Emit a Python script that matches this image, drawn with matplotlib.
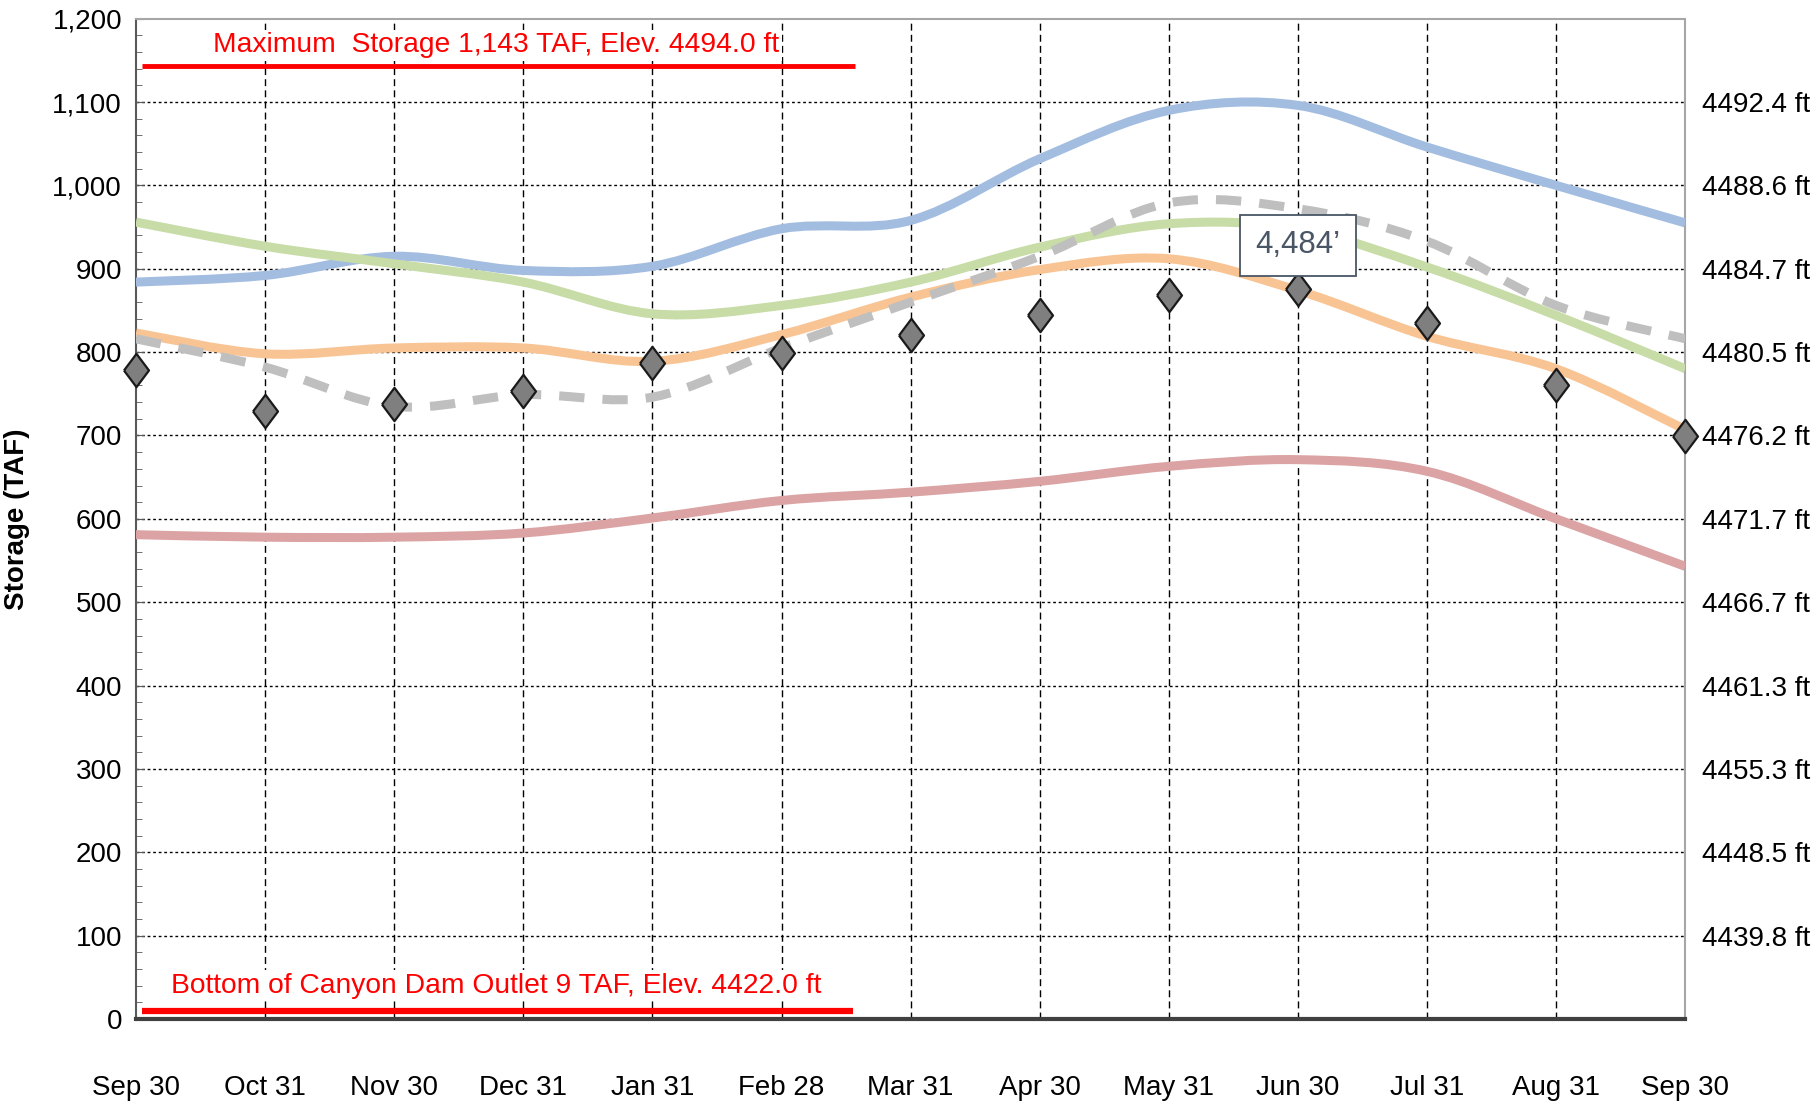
import numpy as np
import matplotlib
matplotlib.use("Agg")
import matplotlib.pyplot as plt
from matplotlib.path import Path
from matplotlib.patches import PathPatch
from matplotlib.ticker import FixedLocator, MultipleLocator, FuncFormatter

plt.rcParams['font.family'] = ['Liberation Sans', 'DejaVu Sans']

months = ["Sep 30", "Oct 31", "Nov 30", "Dec 31", "Jan 31", "Feb 28", "Mar 31",
          "Apr 30", "May 31", "Jun 30", "Jul 31", "Aug 31", "Sep 30"]

blue = [884, 892, 915, 898, 903, 948, 958, 1032, 1090, 1096, 1046, 1000, 955]
green = [956, 927, 906, 884, 846, 856, 884, 926, 954, 948, 902, 844, 780]
orange = [823, 798, 805, 805, 789, 821, 866, 899, 912, 874, 819, 780, 707]
gray_dash = [816, 782, 735, 749, 746, 805, 860, 915, 979, 972, 933, 856, 816]
red = [581, 578, 578, 583, 601, 622, 632, 645, 663, 671, 657, 600, 543]
diamonds = [778, 729, 738, 753, 787, 799, 821, 845, 869, 876, 835, 760, 699]

elev_ticks = [100, 200, 300, 400, 500, 600, 700, 800, 900, 1000, 1100]
elev_labels = ["4439.8 ft", "4448.5 ft", "4455.3 ft", "4461.3 ft", "4466.7 ft",
               "4471.7 ft", "4476.2 ft", "4480.5 ft", "4484.7 ft", "4488.6 ft",
               "4492.4 ft"]

max_storage = 1143
min_storage = 9
max_text = "Maximum  Storage 1,143 TAF, Elev. 4494.0 ft"
min_text = "Bottom of Canyon Dam Outlet 9 TAF, Elev. 4422.0 ft"
annot_text = "4,484\u2019"
annot_value = 928


def smooth_path(xs, ys):
    xs = np.asarray(xs, float)
    ys = np.asarray(ys, float)
    n = len(xs)
    verts = [(xs[0], ys[0])]
    codes = [Path.MOVETO]
    for i in range(n - 1):
        p0 = (xs[max(i - 1, 0)], ys[max(i - 1, 0)])
        p1 = (xs[i], ys[i])
        p2 = (xs[i + 1], ys[i + 1])
        p3 = (xs[min(i + 2, n - 1)], ys[min(i + 2, n - 1)])
        c1 = (p1[0] + (p2[0] - p0[0]) / 6, p1[1] + (p2[1] - p0[1]) / 6)
        c2 = (p2[0] - (p3[0] - p1[0]) / 6, p2[1] - (p3[1] - p1[1]) / 6)
        verts += [c1, c2, p2]
        codes += [Path.CURVE4] * 3
    return Path(verts, codes)


fig = plt.figure(figsize=(18.2, 11.01), dpi=100)
ax = fig.add_axes([0.0747, 0.0745, 0.926 - 0.0747, 0.983 - 0.0745])
x = np.arange(len(months))

ax.set_xlim(0, len(months) - 1)
ax.set_ylim(0, 1200)

# grid
for xi in x[1:-1]:
    ax.axvline(xi, color='black', lw=1.0, linestyle=(0, (5, 3)), zorder=1)
for yv in range(100, 1200, 100):
    ax.axhline(yv, color='black', lw=1.0, linestyle=(0, (2, 2)), zorder=1)

series = [
    (red, '#DBA3A3'),
    (blue, '#A2BDE0'),
    (green, '#C7DCA6'),
    (orange, '#F9C494'),
]
for vals, col in series:
    ax.add_patch(PathPatch(smooth_path(x, vals), facecolor='none', edgecolor=col,
                           lw=6.5, capstyle='butt', zorder=3))
ax.add_patch(PathPatch(smooth_path(x, gray_dash), facecolor='none', edgecolor='#BFBFBF',
                       lw=6.5, linestyle=(0, (2.8, 2.0)), capstyle='butt', zorder=3))

diamond_marker = [(-0.75, 0), (0, 1), (0.75, 0), (0, -1), (-0.75, 0)]
ax.plot(x, diamonds, linestyle='none', marker=diamond_marker, markersize=24,
        markerfacecolor='#7F7F7F', markeredgecolor='#1A1A1A', markeredgewidth=1.6,
        zorder=5, clip_on=False)

# reference lines
ax.plot([0.045, 5.57], [max_storage, max_storage], color='#FF0000', lw=3.5,
        solid_capstyle='butt', zorder=4)
ax.text(2.79, 1168, max_text, color='#FF0000', fontsize=20.3, ha='center', va='center',
        zorder=4, bbox=dict(boxstyle='square,pad=0.1', facecolor='white',
                            edgecolor='none'))
ax.plot([0.045, 5.55], [min_storage, min_storage], color='#FF0000', lw=4.5,
        solid_capstyle='butt', zorder=4)
ax.text(2.79, 40, min_text, color='#FF0000', fontsize=20.3, ha='center', va='center',
        zorder=4, bbox=dict(boxstyle='square,pad=0.1', facecolor='white',
                            edgecolor='none'))

ax.text(9.0, annot_value, annot_text, color='#4A5666', fontsize=22.5, ha='center',
        va='center', zorder=6,
        bbox=dict(boxstyle='square,pad=0.5', facecolor='white', edgecolor='#4A5666',
                  lw=1.3))

# axes formatting
ax.set_xticks(x)
ax.set_xticklabels(months, fontsize=20)
ax.tick_params(axis='x', length=0, pad=40)
ax.yaxis.set_major_locator(MultipleLocator(100))
ax.yaxis.set_minor_locator(MultipleLocator(20))
ax.yaxis.set_major_formatter(FuncFormatter(lambda v, p: f"{int(v):,}"))
ax.tick_params(axis='y', which='major', direction='in', length=6, labelsize=20, pad=10,
               color='#595959')
ax.tick_params(axis='y', which='minor', direction='in', length=4, color='#595959')
ax.set_ylabel("Storage (TAF)", fontsize=20, fontweight='bold', labelpad=16)

ax.spines['left'].set_color('#595959')
ax.spines['left'].set_linewidth(1.5)
ax.spines['top'].set_color('#A6A6A6')
ax.spines['top'].set_linewidth(1.5)
ax.spines['right'].set_color('#A6A6A6')
ax.spines['right'].set_linewidth(1.5)
ax.spines['bottom'].set_color('#404040')
ax.spines['bottom'].set_linewidth(3)

ax2 = ax.twinx()
ax2.set_ylim(ax.get_ylim())
ax2.yaxis.set_major_locator(FixedLocator(elev_ticks))
ax2.set_yticklabels(elev_labels, fontsize=20)
ax2.tick_params(axis='y', length=0, pad=12)
for s in ax2.spines.values():
    s.set_visible(False)

fig.savefig("out.png", dpi=100)
